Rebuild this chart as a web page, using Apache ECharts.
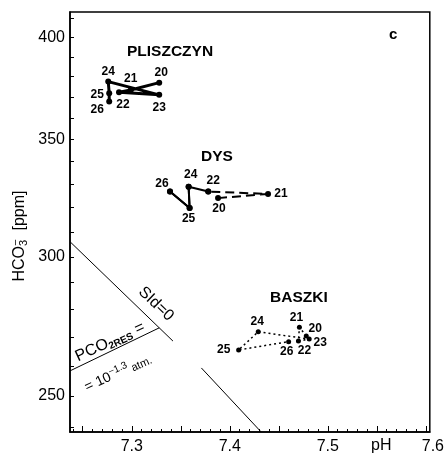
<!DOCTYPE html>
<html><head><meta charset="utf-8">
<script src="https://cdn.jsdelivr.net/npm/echarts@6/dist/echarts.min.js"></script>
<style>html,body{margin:0;padding:0;background:#fff}#c{width:447px;height:456px}</style>
</head><body><div id="c"></div>
<script>
// ---- data ----
const xMin = 7.237, xMax = 7.604;
const yMin = 238.4, yMax = 413.6;
const xLabelTicks = [7.3, 7.4, 7.5, 7.6];
const xMinorTicks = [7.24,7.25,7.26,7.27,7.28,7.29,7.30,7.31,7.32,7.33,7.34,7.35,7.36,7.37,7.38,7.39,7.40,7.41,7.42,7.43,7.44,7.45,7.46,7.47,7.48,7.49,7.50,7.51,7.52,7.53,7.54,7.55,7.56,7.57,7.58,7.59,7.60];
const xMajorTicks = [7.25, 7.30, 7.35, 7.40, 7.45, 7.50, 7.55, 7.60];
const yLabelTicks = [250, 300, 350, 400];
const yTicks = [240,250,260,270,280,290,300,310,320,330,340,350,360,370,380,390,400,410];

const pliszNames = ['20','21','22','23','24','25','26'];
const pliszPH    = [7.328, 7.299, 7.287, 7.328, 7.276, 7.277, 7.277];
const pliszHCO3  = [377.0, 373.4, 372.3, 371.0, 377.5, 371.8, 367.8];

const dysNames = ['20','21','22','24','25','26'];
const dysPH    = [7.388, 7.439, 7.378, 7.358, 7.359, 7.339];
const dysHCO3  = [324.0, 325.8, 326.8, 328.9, 319.8, 326.8];

const baszNames = ['20','21','22','23','24','25','26'];
const baszPH    = [7.478, 7.471, 7.470, 7.481, 7.429, 7.409, 7.460];
const baszHCO3  = [270.4, 273.5, 268.6, 269.3, 271.9, 265.5, 268.4];

const sidLineA = [[7.237, 306.0], [7.342, 268.6]];
const sidLineB = [[7.371, 259.3], [7.432, 238.4]];
const pco2Line = [[7.237, 258.3], [7.328, 273.3]];

// ---- styling (label offsets in px) ----
const pliszOff = [[2,-10],[0,-11],[4,12],[0,13],[0,-10],[-12,1],[-12,8]];
const dysOff   = [[1,11],[13,0],[5,-11],[2,-12],[-1,11],[-8,-8]];
const baszOff  = [[9,-7],[-3,-10],[6,10],[11,4],[-1,-10],[-15,0],[-2,10]];

const FONT = 'Liberation Sans';

function pts(names, xs, ys, offs, from, to) {
  const out = [];
  for (let i = from; i <= to; i++) {
    out.push({ value: [xs[i], ys[i]], name: names[i], label: { offset: offs[i] } });
  }
  return out;
}
function siteSeries(names, xs, ys, offs, from, to, lineType, width, sym, showLabel) {
  return {
    type: 'line', data: pts(names, xs, ys, offs, from, to),
    symbol: 'circle', symbolSize: sym, showSymbol: true,
    itemStyle: { color: '#000' },
    lineStyle: { color: '#000', width: width, type: lineType },
    label: { show: showLabel, position: 'inside', formatter: p => p.name,
             color: '#000', fontFamily: FONT, fontSize: 12, fontWeight: 'bold' },
    emphasis: { disabled: true }, animation: false, z: 5
  };
}
function refLine(d) {
  return { type: 'line', data: d, symbol: 'none', lineStyle: { color: '#000', width: 1 },
           animation: false, emphasis: { disabled: true }, z: 3 };
}

const chart = echarts.init(document.getElementById('c'));
const grid = { left: 70, right: 13, top: 12, bottom: 24, show: true, borderColor: '#000', borderWidth: 1.5 };

chart.setOption({
  backgroundColor: '#fff',
  animation: false,
  grid: grid,
  xAxis: [{
    type: 'value', min: xMin, max: xMax,
    axisLine: { show: true, lineStyle: { color: '#000', width: 1.5 } },
    axisTick: { show: true, inside: true, length: 3, customValues: xMinorTicks, lineStyle: { color: '#000', width: 1 } },
    axisLabel: { show: true, customValues: xLabelTicks, margin: 7, color: '#000', fontFamily: FONT, fontSize: 16,
      formatter: v => (Math.abs(v - 7.6) < 1e-6 ? '{r|7.6}' : v.toFixed(1)),
      rich: { r: { padding: [0, 0, 0, 14], fontFamily: FONT, fontSize: 16, color: '#000' } } },
    splitLine: { show: false }
  }, {
    type: 'value', min: xMin, max: xMax, position: 'bottom', gridIndex: 0,
    axisLine: { show: false },
    axisTick: { show: true, inside: true, length: 6, customValues: xMajorTicks, lineStyle: { color: '#000', width: 1 } },
    axisLabel: { show: false }, splitLine: { show: false }
  }],
  yAxis: {
    type: 'log', logBase: 10, min: yMin, max: yMax,
    axisLine: { show: true, lineStyle: { color: '#000', width: 1.5 } },
    axisTick: { show: true, inside: true, length: 4, customValues: yTicks, lineStyle: { color: '#000', width: 1 } },
    axisLabel: { show: true, customValues: yLabelTicks, margin: 5, color: '#000', fontFamily: FONT, fontSize: 16,
      formatter: v => String(Math.round(v)) },
    splitLine: { show: false }, minorTick: { show: false }
  },
  graphic: [
    { type: 'text', left: 127, top: 44, style: { text: 'PLISZCZYN', font: 'bold 15.5px "Liberation Sans"', fill: '#000' } },
    { type: 'text', left: 201, top: 149, style: { text: 'DYS', font: 'bold 15.5px "Liberation Sans"', fill: '#000' } },
    { type: 'text', left: 270, top: 290, style: { text: 'BASZKI', font: 'bold 15.5px "Liberation Sans"', fill: '#000' } },
    { type: 'text', left: 389, top: 27, style: { text: 'c', font: 'bold 15px "Liberation Sans"', fill: '#000' } },
    { type: 'text', left: 371, top: 438, style: { text: 'pH', font: '16px "Liberation Sans"', fill: '#000' } },
    { type: 'text', x: 20, y: 236, rotation: Math.PI / 2,
      style: { text: '{a|HCO}{s|3}{p|−}{a|  [ppm]}', align: 'center', verticalAlign: 'middle',
        rich: { a: { font: '16px "Liberation Sans"', fill: '#000' },
                s: { font: '11px "Liberation Sans"', fill: '#000', padding: [8, 0, 0, 0] },
                p: { font: '11px "Liberation Sans"', fill: '#000', padding: [0, 0, 8, -6] } } } },
    { type: 'text', x: 156, y: 304, rotation: -0.76,
      style: { text: 'SId=0', align: 'center', verticalAlign: 'middle', font: '16px "Liberation Sans"', fill: '#000' } },
    { type: 'text', x: 110, y: 342, rotation: 0.43,
      style: { text: '{a|PCO}{s|2RES}{a| =}', align: 'center', verticalAlign: 'middle',
        rich: { a: { font: '16px "Liberation Sans"', fill: '#000' },
                s: { font: 'bold 10px "Liberation Sans"', fill: '#000', padding: [8, 0, 0, 0] } } } },
    { type: 'text', x: 118, y: 373, rotation: 0.43,
      style: { text: '{a|= 10}{p|−1.3}{b| atm.}', align: 'center', verticalAlign: 'middle',
        rich: { a: { font: '14px "Liberation Sans"', fill: '#000' },
                p: { font: '10px "Liberation Sans"', fill: '#000', padding: [0, 0, 8, 0] },
                b: { font: '11px "Liberation Sans"', fill: '#000', padding: [4, 0, 0, 0] } } } }
  ],
  series: [
    refLine(sidLineA), refLine(sidLineB), refLine(pco2Line),
    siteSeries(pliszNames, pliszPH, pliszHCO3, pliszOff, 0, 6, 'solid', 3, 6, true),
    siteSeries(dysNames, dysPH, dysHCO3, dysOff, 0, 2, [9, 5], 2, 6, true),
    siteSeries(dysNames, dysPH, dysHCO3, dysOff, 2, 5, 'solid', 2, 6, false),
    siteSeries(dysNames, dysPH, dysHCO3, dysOff, 3, 5, 'solid', 2, 6, true),
    siteSeries(baszNames, baszPH, baszHCO3, baszOff, 0, 6, [2, 3], 1.5, 5, true)
  ]
});
</script></body></html>
